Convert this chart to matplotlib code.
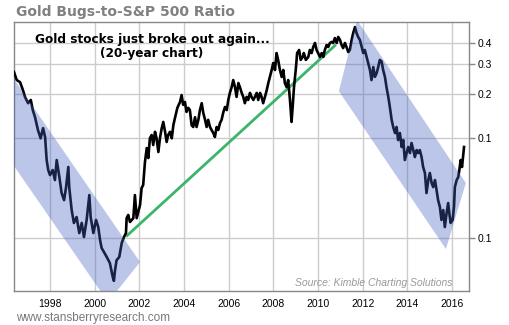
import numpy as np
import matplotlib
matplotlib.use('Agg')
import matplotlib.pyplot as plt
from matplotlib.patches import Polygon

# ratio series (decimal year, ratio)
years = [1996.39, 1996.51, 1996.66, 1996.79, 1996.88, 1997.02, 1997.14, 1997.23, 1997.33, 1997.46,
         1997.58, 1997.69, 1997.78, 1997.85, 1997.92, 1998.00, 1998.12, 1998.22, 1998.30, 1998.42,
         1998.52, 1998.63, 1998.72, 1998.82, 1998.86, 1998.97, 1999.07, 1999.19, 1999.31, 1999.42,
         1999.52, 1999.64, 1999.76, 1999.82, 1999.94, 2000.06, 2000.16, 2000.24, 2000.31, 2000.54,
         2000.68, 2000.81, 2000.86, 2000.91, 2000.98, 2001.10, 2001.21, 2001.31, 2001.40, 2001.43,
         2001.50, 2001.58, 2001.73, 2001.80, 2001.88, 2001.95, 2002.03, 2002.10, 2002.17, 2002.25,
         2002.33, 2002.40, 2002.47, 2002.55, 2002.62, 2002.70, 2002.77, 2002.85, 2002.92, 2003.00,
         2003.07, 2003.15, 2003.22, 2003.29, 2003.37, 2003.45, 2003.52, 2003.59, 2003.70, 2003.82,
         2003.89, 2003.96, 2004.04, 2004.11, 2004.19, 2004.26, 2004.34, 2004.41, 2004.49, 2004.56,
         2004.64, 2004.71, 2004.79, 2004.86, 2004.94, 2005.01, 2005.08, 2005.16, 2005.23, 2005.31,
         2005.38, 2005.46, 2005.53, 2005.61, 2005.68, 2005.75, 2005.83, 2005.91, 2005.98, 2006.05,
         2006.13, 2006.20, 2006.28, 2006.35, 2006.43, 2006.50, 2006.58, 2006.65, 2006.72, 2006.80,
         2006.87, 2006.95, 2007.02, 2007.10, 2007.17, 2007.25, 2007.32, 2007.40, 2007.47, 2007.54,
         2007.62, 2007.70, 2007.77, 2007.84, 2007.92, 2007.99, 2008.07, 2008.14, 2008.21, 2008.29,
         2008.37, 2008.44, 2008.51, 2008.59, 2008.66, 2008.74, 2008.81, 2008.86, 2008.92, 2009.01,
         2009.06, 2009.15, 2009.22, 2009.31, 2009.36, 2009.45, 2009.56, 2009.63, 2009.71, 2009.78,
         2009.86, 2009.93, 2010.00, 2010.08, 2010.16, 2010.23, 2010.30, 2010.38, 2010.45, 2010.53,
         2010.60, 2010.67, 2010.75, 2010.83, 2010.90, 2010.98, 2011.05, 2011.12, 2011.20, 2011.27,
         2011.35, 2011.42, 2011.50, 2011.57, 2011.65, 2011.72, 2011.79, 2011.87, 2011.95, 2012.02,
         2012.09, 2012.17, 2012.24, 2012.32, 2012.39, 2012.47, 2012.54, 2012.62, 2012.69, 2012.76,
         2012.84, 2012.91, 2012.99, 2013.06, 2013.14, 2013.21, 2013.29, 2013.36, 2013.44, 2013.51,
         2013.58, 2013.66, 2013.74, 2013.81, 2013.88, 2013.96, 2014.03, 2014.11, 2014.18, 2014.26,
         2014.33, 2014.41, 2014.48, 2014.55, 2014.63, 2014.70, 2014.78, 2014.85, 2014.93, 2015.00,
         2015.08, 2015.15, 2015.23, 2015.30, 2015.37, 2015.45, 2015.52, 2015.60, 2015.67, 2015.75,
         2015.82, 2015.87, 2015.93, 2016.02, 2016.08, 2016.12, 2016.20, 2016.27, 2016.32, 2016.38,
         2016.44, 2016.50, 2016.53]
ratio = [0.263, 0.234, 0.227, 0.202, 0.183, 0.167, 0.175, 0.151, 0.136, 0.113,
         0.100, 0.116, 0.102, 0.0729, 0.0630, 0.0585, 0.0630, 0.0544, 0.0729, 0.0568,
         0.0450, 0.0406, 0.0491, 0.0658, 0.0491, 0.0351, 0.0291, 0.0317, 0.0251, 0.0291,
         0.0237, 0.0304, 0.0437, 0.0317, 0.0251, 0.0304, 0.0274, 0.0227, 0.0202, 0.0177,
         0.0162, 0.0132, 0.0125, 0.0146, 0.0169, 0.0177, 0.0217, 0.0237, 0.0251, 0.0312,
         0.0327, 0.0295, 0.0312, 0.0437, 0.0312, 0.0341, 0.0378, 0.0484, 0.0506, 0.0708,
         0.0868, 0.0750, 0.100, 0.105, 0.0907, 0.110, 0.100, 0.0819, 0.100, 0.116,
         0.127, 0.110, 0.0948, 0.105, 0.110, 0.100, 0.121, 0.134, 0.156, 0.170,
         0.188, 0.163, 0.170, 0.147, 0.156, 0.151, 0.121, 0.118, 0.136, 0.118,
         0.131, 0.151, 0.167, 0.145, 0.131, 0.118, 0.131, 0.118, 0.113, 0.108,
         0.102, 0.118, 0.113, 0.125, 0.131, 0.145, 0.158, 0.151, 0.175, 0.194,
         0.211, 0.234, 0.211, 0.183, 0.224, 0.211, 0.194, 0.183, 0.167, 0.183,
         0.175, 0.194, 0.183, 0.175, 0.183, 0.194, 0.175, 0.194, 0.183, 0.167,
         0.183, 0.202, 0.224, 0.245, 0.271, 0.300, 0.271, 0.347, 0.314, 0.271,
         0.245, 0.271, 0.224, 0.211, 0.234, 0.175, 0.127, 0.158, 0.211, 0.283,
         0.347, 0.363, 0.314, 0.328, 0.347, 0.314, 0.328, 0.363, 0.347, 0.379,
         0.402, 0.363, 0.347, 0.328, 0.347, 0.328, 0.363, 0.390, 0.379, 0.402,
         0.408, 0.402, 0.432, 0.402, 0.439, 0.420, 0.390, 0.373, 0.402, 0.379,
         0.352, 0.363, 0.420, 0.465, 0.507, 0.465, 0.439, 0.420, 0.379, 0.347,
         0.363, 0.328, 0.300, 0.271, 0.234, 0.283, 0.245, 0.259, 0.283, 0.314,
         0.307, 0.271, 0.245, 0.211, 0.183, 0.158, 0.131, 0.118, 0.108, 0.118,
         0.0975, 0.108, 0.0881, 0.0975, 0.0729, 0.0807, 0.0881, 0.0807, 0.0934, 0.0843,
         0.0761, 0.0843, 0.0807, 0.0843, 0.0761, 0.0658, 0.0603, 0.0450, 0.0544, 0.0603,
         0.0521, 0.0491, 0.0544, 0.0470, 0.0406, 0.0367, 0.0304, 0.0351, 0.0274, 0.0336,
         0.0389, 0.0336, 0.0291, 0.0304, 0.0367, 0.0491, 0.0544, 0.0568, 0.0630, 0.0729,
         0.0658, 0.0807, 0.0881]

# green trend line
trend_years = [2001.45, 2010.75]
trend_ratio = [0.0242, 0.387]

# shaded down-trend channels
band1_years = [1995.76, 2002.03, 2000.60, 1995.76]
band1_ratio = [0.3195, 0.01645, 0.00917, 0.0898]
band2_years = [2011.74, 2016.61, 2015.72, 2010.93]
band2_ratio = [0.562, 0.0521, 0.0199, 0.199]

# axis ticks
x_ticks = [1998, 2000, 2002, 2004, 2006, 2008, 2010, 2012, 2014, 2016]
y_ticks = [0.4, 0.294, 0.191, 0.1, 0.0232]
y_labels = ['0.4', '0.3', '0.2', '0.1', '0.1']

fig = plt.figure(figsize=(5.1, 3.25), dpi=100)
ax = fig.add_axes([0.0275, 0.1046, 0.892, 0.8262])
ax.set_yscale('log')

ax.plot(years, ratio, color='black', lw=1.9, zorder=3)
ax.plot(trend_years, trend_ratio, color='#3cb56a', lw=2.0, zorder=2)

for bx, by in [(band1_years, band1_ratio), (band2_years, band2_ratio)]:
    poly = Polygon(list(zip(bx, by)), closed=True, facecolor='#4561c2',
                   edgecolor='none', alpha=0.36, zorder=4)
    ax.add_patch(poly)

ax.set_xlim(1996.39, 2016.75)
ax.set_ylim(0.01078, 0.542)

ax.set_xticks(x_ticks)
ax.set_xticklabels([str(x) for x in x_ticks])
ax.yaxis.tick_right()
ax.yaxis.set_minor_locator(matplotlib.ticker.NullLocator())
ax.set_yticks(y_ticks)
ax.set_yticklabels(y_labels)

ax.grid(True, color='#cccccc', lw=1.0, zorder=0)
ax.set_axisbelow(True)
for s in ax.spines.values():
    s.set_color('#888888')
    s.set_linewidth(1.0)
ax.tick_params(axis='x', length=0, pad=6, labelsize=7.5, labelcolor='black')
ax.tick_params(axis='y', length=4, width=1, color='#888888', pad=2,
               labelsize=7.5, labelcolor='black')
for lab in ax.get_xticklabels() + ax.get_yticklabels():
    lab.set_family('Liberation Sans')

fig.text(0.031, 0.963, 'Gold Bugs-to-S&P 500 Ratio', fontsize=10, fontweight='bold',
         color='#808080', va='center', ha='left', family='DejaVu Sans')
ax.text(0.298, 0.857, 'Gold stocks just broke out again...\n(20-year chart)',
        transform=fig.transFigure, fontsize=8.7, fontweight='bold', ha='center',
        va='center', linespacing=1.05, family='DejaVu Sans', zorder=6)
fig.text(0.888, 0.129, 'Source: Kimble Charting Solutions', fontsize=7.5, style='italic',
         color='#999999', ha='right', va='center', family='Liberation Sans')
fig.text(0.031, 0.0215, 'www.stansberryresearch.com', fontsize=8.5, color='#777777',
         ha='left', va='center', family='Liberation Sans')

fig.savefig('out.png', dpi=100)
